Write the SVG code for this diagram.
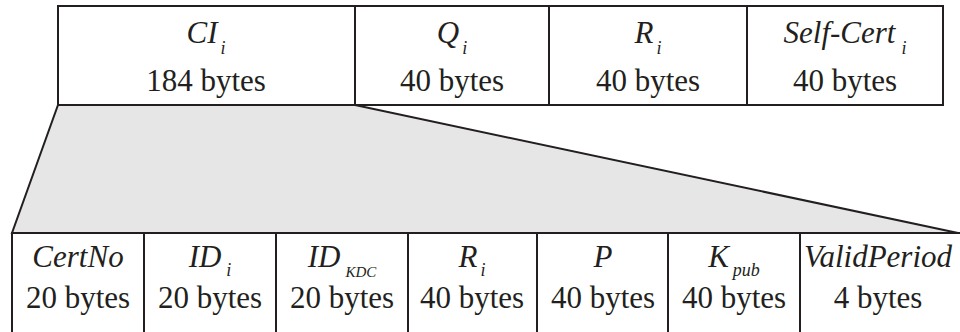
<svg xmlns="http://www.w3.org/2000/svg" width="960" height="332" viewBox="0 0 960 332">
  <style>
    .box { fill: #ffffff; stroke: #231f20; stroke-width: 2; }
    .div { stroke: #231f20; stroke-width: 2; }
    .zoom { fill: #e6e6e6; stroke: #231f20; stroke-width: 2; stroke-linejoin: miter; }
    .lbl { font-style: italic; font-size: 31px; fill: #231f20; text-anchor: middle; }
    .sub { font-size: 18px; }
    .sc { font-size: 15px; }
    .size { font-size: 31px; fill: #231f20; text-anchor: middle; }
  </style>

  <!-- expansion wedge from CI_i down to its fields -->
  <g id="connectors">
    <polygon class="zoom" points="58,105 355,105 958,233 12,233"/>
  </g>

  <g font-family="'Liberation Serif', 'Times New Roman', Times, 'DejaVu Serif', serif">
    <!-- certificate: top row -->
    <g id="cert">
      <rect class="box" x="58" y="6" width="885" height="99"/>
      <g id="ci">
        <line class="div" x1="355" y1="6" x2="355" y2="105"/>
        <text class="lbl" x="206" y="43">CI<tspan class="sub" dx="3" dy="11">i</tspan></text>
        <text class="size" x="206" y="91">184 bytes</text>
      </g>
      <g id="qi">
        <line class="div" x1="549" y1="6" x2="549" y2="105"/>
        <text class="lbl" x="452" y="43">Q<tspan class="sub" dx="3" dy="11">i</tspan></text>
        <text class="size" x="452" y="91">40 bytes</text>
      </g>
      <g id="ri-top">
        <line class="div" x1="747" y1="6" x2="747" y2="105"/>
        <text class="lbl" x="648" y="43">R<tspan class="sub" dx="3" dy="11">i</tspan></text>
        <text class="size" x="648" y="91">40 bytes</text>
      </g>
      <g id="selfcert">
        <text class="lbl" x="845" y="43">Self-Cert<tspan class="sub" dx="6" dy="11">i</tspan></text>
        <text class="size" x="845" y="91">40 bytes</text>
      </g>
    </g>

    <!-- CI_i fields: bottom row -->
    <g id="fields">
      <rect class="box" x="12" y="233" width="960" height="120"/>
      <g id="certno">
        <text class="lbl" x="78" y="267">CertNo</text>
        <text class="size" x="78" y="308">20 bytes</text>
      </g>
      <g id="idi">
        <line class="div" x1="144" y1="233" x2="144" y2="340"/>
        <text class="lbl" x="210" y="267">ID<tspan class="sub" dx="5" dy="9">i</tspan></text>
        <text class="size" x="210" y="308">20 bytes</text>
      </g>
      <g id="idkdc">
        <line class="div" x1="276" y1="233" x2="276" y2="340"/>
        <text class="lbl" x="342" y="267">ID<tspan class="sc" dx="5" dy="10">KDC</tspan></text>
        <text class="size" x="342" y="308">20 bytes</text>
      </g>
      <g id="ri">
        <line class="div" x1="408" y1="233" x2="408" y2="340"/>
        <text class="lbl" x="472" y="267">R<tspan class="sub" dx="3" dy="9">i</tspan></text>
        <text class="size" x="472" y="308">40 bytes</text>
      </g>
      <g id="p">
        <line class="div" x1="537" y1="233" x2="537" y2="340"/>
        <text class="lbl" x="603" y="267">P</text>
        <text class="size" x="603" y="308">40 bytes</text>
      </g>
      <g id="kpub">
        <line class="div" x1="668" y1="233" x2="668" y2="340"/>
        <text class="lbl" x="734" y="267">K<tspan class="sub" dx="4" dy="9">pub</tspan></text>
        <text class="size" x="734" y="308">40 bytes</text>
      </g>
      <g id="validperiod">
        <line class="div" x1="800" y1="233" x2="800" y2="340"/>
        <text class="lbl" x="878" y="267">ValidPeriod</text>
        <text class="size" x="878" y="308">4 bytes</text>
      </g>
    </g>
  </g>
</svg>
